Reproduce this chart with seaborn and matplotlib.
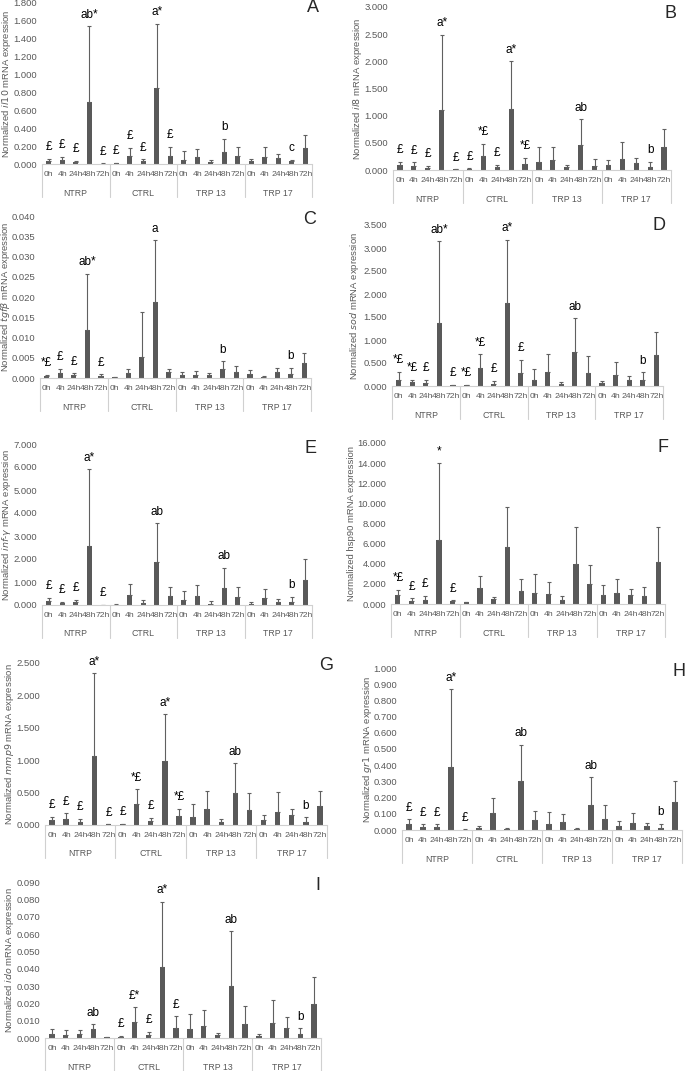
import numpy as np
import pandas as pd
import matplotlib
matplotlib.use('Agg')
import matplotlib.pyplot as plt
import seaborn as sns

groups = ['NTRP', 'CTRL', 'TRP 13', 'TRP 17']
times = ['0h', '4h', '24h', '48h', '72h']

# bar heights and tops of the (upper) error bars, order: NTRP 0h..72h, CTRL, TRP 13, TRP 17
il10_mean = [0.03, 0.04, 0.02, 0.69, 0.005, 0.01, 0.093, 0.03, 0.85, 0.09,
             0.045, 0.08, 0.025, 0.135, 0.085, 0.03, 0.075, 0.065, 0.03, 0.18]
il10_top = [0.056, 0.08, 0.035, 1.54, 0.006, 0.015, 0.18, 0.055, 1.565, 0.19,
            0.14, 0.17, 0.05, 0.28, 0.19, 0.06, 0.19, 0.11, 0.05, 0.325]
il10_sig = ['£', '£', '£', 'ab*', '£', '£', '£', '£', 'a*', '£',
            '', '', '', 'b', '', '', '', '', 'c', '']

il8_mean = [0.09, 0.07, 0.03, 1.11, 0.01, 0.02, 0.25, 0.05, 1.12, 0.11,
            0.14, 0.19, 0.05, 0.46, 0.08, 0.10, 0.20, 0.12, 0.06, 0.43]
il8_top = [0.155, 0.14, 0.08, 2.49, 0.012, 0.03, 0.48, 0.10, 2.0, 0.22,
           0.42, 0.42, 0.10, 0.93, 0.21, 0.19, 0.52, 0.22, 0.15, 0.75]
il8_sig = ['£', '£', '£', 'a*', '£', '£', '*£', '£', 'a*', '*£',
           '', '', '', 'ab', '', '', '', '', 'b', '']

tgfb_mean = [0.0005, 0.0012, 0.0007, 0.0118, 0.0006, 0.0002, 0.0013, 0.0053, 0.0187, 0.0016,
             0.0007, 0.0008, 0.0008, 0.0022, 0.0016, 0.0011, 0.0003, 0.0014, 0.0010, 0.0036]
tgfb_top = [0.0008, 0.0023, 0.0012, 0.0257, 0.0009, 0.0003, 0.0023, 0.0163, 0.0340, 0.0023,
            0.0016, 0.0017, 0.0013, 0.0041, 0.0029, 0.0020, 0.0004, 0.0025, 0.0025, 0.0062]
tgfb_sig = ['*£', '£', '£', 'ab*', '£', '', '', '', 'a', '',
            '', '', '', 'b', '', '', '', '', 'b', '']

sod_mean = [0.14, 0.08, 0.06, 1.38, 0.02, 0.02, 0.39, 0.05, 1.80, 0.29,
            0.14, 0.30, 0.04, 0.74, 0.29, 0.06, 0.24, 0.12, 0.12, 0.68]
sod_top = [0.31, 0.14, 0.14, 3.15, 0.03, 0.03, 0.69, 0.11, 3.18, 0.57,
           0.38, 0.70, 0.09, 1.47, 0.65, 0.10, 0.53, 0.21, 0.30, 1.18]
sod_sig = ['*£', '*£', '£', 'ab*', '£', '*£', '*£', '£', 'a*', '£',
           '', '', '', 'ab', '', '', '', '', 'b', '']

infg_mean = [0.18, 0.08, 0.12, 2.55, 0.01, 0.02, 0.45, 0.10, 1.85, 0.38,
             0.20, 0.38, 0.05, 0.76, 0.33, 0.06, 0.30, 0.13, 0.13, 1.10]
infg_top = [0.32, 0.13, 0.22, 5.90, 0.015, 0.03, 0.92, 0.22, 3.55, 0.80,
            0.62, 0.88, 0.17, 1.62, 0.77, 0.14, 0.70, 0.27, 0.35, 2.00]
infg_sig = ['£', '£', '£', 'a*', '£', '', '', '', 'ab', '',
            '', '', '', 'ab', '', '', '', '', 'b', '']

hsp90_mean = [0.85, 0.30, 0.35, 6.40, 0.25, 0.15, 1.55, 0.45, 5.70, 1.30,
              1.10, 1.00, 0.40, 3.95, 1.95, 0.85, 1.10, 0.85, 0.75, 4.20]
hsp90_top = [1.40, 0.55, 0.80, 14.0, 0.38, 0.20, 2.80, 0.70, 9.60, 2.50,
             3.00, 2.20, 0.75, 7.70, 3.85, 1.90, 2.45, 1.50, 1.70, 7.70]
hsp90_sig = ['*£', '£', '£', '*', '£', '', '', '', '', '',
             '', '', '', '', '', '', '', '', '', '']

mmp9_mean = [0.08, 0.10, 0.04, 1.06, 0.01, 0.01, 0.32, 0.06, 0.98, 0.14,
             0.12, 0.25, 0.05, 0.49, 0.23, 0.08, 0.20, 0.15, 0.05, 0.30]
mmp9_top = [0.13, 0.18, 0.10, 2.34, 0.012, 0.02, 0.55, 0.11, 1.71, 0.25,
            0.33, 0.52, 0.09, 0.95, 0.50, 0.16, 0.51, 0.24, 0.12, 0.53]
mmp9_sig = ['£', '£', '£', 'a*', '£', '£', '*£', '£', 'a*', '*£',
            '', '', '', 'ab', '', '', '', '', 'b', '']

gr1_mean = [0.035, 0.020, 0.018, 0.39, 0.003, 0.010, 0.105, 0.008, 0.30, 0.060,
            0.040, 0.050, 0.008, 0.155, 0.070, 0.025, 0.045, 0.022, 0.015, 0.17]
gr1_top = [0.065, 0.035, 0.035, 0.87, 0.004, 0.022, 0.20, 0.015, 0.525, 0.12,
           0.11, 0.10, 0.015, 0.325, 0.155, 0.055, 0.105, 0.045, 0.038, 0.30]
gr1_sig = ['£', '£', '£', 'a*', '£', '', '', '', 'ab', '',
           '', '', '', 'ab', '', '', '', '', 'b', '']

ido_mean = [0.0025, 0.0020, 0.0025, 0.0050, 0.0005, 0.0005, 0.0095, 0.0018, 0.0410, 0.0055,
            0.0050, 0.0070, 0.0015, 0.0300, 0.0080, 0.0010, 0.0085, 0.0060, 0.0025, 0.0195]
ido_top = [0.0052, 0.0045, 0.0048, 0.0078, 0.0006, 0.0012, 0.0178, 0.0035, 0.0785, 0.0125,
           0.0140, 0.0160, 0.0030, 0.0615, 0.0185, 0.0025, 0.0218, 0.0123, 0.0055, 0.0350]
ido_sig = ['', '', '', 'ab', '', '£', '£*', '£', 'a*', '£',
           '', '', '', 'ab', '', '', '', '', 'b', '']

sns.set_style('white')
plt.rcParams['font.family'] = ['Liberation Sans', 'DejaVu Sans']

W, H = 685, 1071
fig = plt.figure(figsize=(W / 100, H / 100), dpi=100)

BAR = '#595959'
GRID = '#d0d0d0'

panels = [
    # ylabel, mean, top, sig, ymax, step, (x0, ytop, x1, y0), ylabel x (px), letter, letter pos (px)
    (r'Normalized $\it{il10}$ mRNA expression', il10_mean, il10_top, il10_sig, 1.8, 0.2, (42, 3, 312, 164), 7, 'A', (313, 8)),
    (r'Normalized $\it{il8}$ mRNA expression', il8_mean, il8_top, il8_sig, 3.0, 0.5, (393, 7, 671, 170), 357, 'B', (671, 13)),
    (r'Normalized $\it{tgf\beta}$ mRNA expression', tgfb_mean, tgfb_top, tgfb_sig, 0.04, 0.005, (40, 216, 311, 378), 6, 'C', (310, 220)),
    (r'Normalized $\it{sod}$ mRNA expression', sod_mean, sod_top, sod_sig, 3.5, 0.5, (392, 225, 663, 386), 355, 'D', (659, 225)),
    (r'Normalized $\it{inf}$-$\it{\gamma}$ mRNA expression', infg_mean, infg_top, infg_sig, 7.0, 1.0, (42, 444, 312, 605), 7, 'E', (311, 448)),
    ('Normalized hsp90 mRNA expression', hsp90_mean, hsp90_top, hsp90_sig, 16.0, 2.0, (391, 443, 665, 604), 352, 'F', (663, 447)),
    (r'Normalized $\it{mmp9}$ mRNA expression', mmp9_mean, mmp9_top, mmp9_sig, 2.5, 0.5, (45, 663, 327, 825), 10, 'G', (326, 666)),
    (r'Normalized $\it{gr1}$ mRNA expression', gr1_mean, gr1_top, gr1_sig, 1.0, 0.1, (402, 668, 682, 830), 367, 'H', (679, 672)),
    (r'Normalized $\it{ido}$ mRNA expression', ido_mean, ido_top, ido_sig, 0.09, 0.01, (45, 882, 321, 1038), 10, 'I', (318, 885)),
]

order = [g + ' ' + t for g in groups for t in times]

for ylabel, mean, top, sig, ymax, step, box, lab_x, letter, lpos in panels:
    x0, yt, x1, yb = box
    ax = fig.add_axes([x0 / W, 1 - yb / H, (x1 - x0) / W, (yb - yt) / H])
    df = pd.DataFrame({'cat': order, 'value': mean})
    sns.barplot(data=df, x='cat', y='value', order=order, color=BAR,
                saturation=1, width=0.38, errorbar=None, ax=ax)
    for p in ax.patches:
        p.set_edgecolor('none')
    xs = np.arange(len(order))
    mean_a = np.array(mean)
    top_a = np.array(top)
    ax.errorbar(xs, mean_a, yerr=[np.zeros_like(mean_a), top_a - mean_a], fmt='none',
                ecolor='#606060', elinewidth=0.8, capsize=1.6, capthick=0.8)
    for x, t, s in zip(xs, top_a, sig):
        if s:
            ax.annotate(s, (x, t), xytext=(0, 4), textcoords='offset points',
                        ha='center', va='bottom', fontsize=8.5, color='black')

    ax.set_xlim(-0.5, len(order) - 0.5)
    ax.set_ylim(0, ymax)
    ax.set_yticks(np.arange(0, ymax + step / 2, step))
    ax.yaxis.set_major_formatter(matplotlib.ticker.FuncFormatter(lambda v, _: f'{v:.3f}'))
    ax.set_xticks(xs)
    ax.set_xticklabels(times * len(groups))
    ax.tick_params(axis='both', length=0, labelsize=6.8, labelcolor='#595959')
    ax.tick_params(axis='x', pad=5, labelsize=6.1)
    ax.set_xlabel('')
    ax.set_ylabel(ylabel, fontsize=6.8, color='#595959', va='center')
    ax.yaxis.set_label_coords((lab_x - x0) / (x1 - x0), 0.5)
    for side in ['left', 'right', 'top']:
        ax.spines[side].set_visible(False)
    ax.spines['bottom'].set_color(GRID)
    ax.spines['bottom'].set_linewidth(0.8)

    h = yb - yt
    trans = ax.get_xaxis_transform()
    for b in [-0.5, 4.5, 9.5, 14.5, 19.5]:
        ax.plot([b, b], [0, -33 / h], transform=trans, color=GRID, lw=0.8, clip_on=False)
    for i, g in enumerate(groups):
        ax.text(i * 5 + 2, -29 / h, g, transform=trans, ha='center', va='center',
                fontsize=6.3, color='#595959')

    fig.text(lpos[0] / W, 1 - lpos[1] / H, letter, ha='center', va='center', fontsize=13)

fig.savefig('out.png', dpi=100)
